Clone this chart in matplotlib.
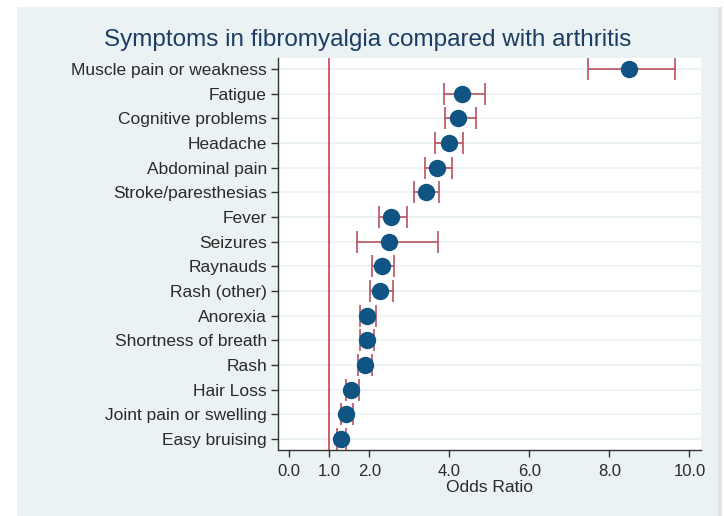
import matplotlib
matplotlib.use("Agg")
import matplotlib.pyplot as plt

plt.rcParams['font.family'] = ['Liberation Sans', 'DejaVu Sans']

# symptoms, top to bottom
symptoms = ["Muscle pain or weakness", "Fatigue", "Cognitive problems", "Headache",
            "Abdominal pain", "Stroke/paresthesias", "Fever", "Seizures",
            "Raynauds", "Rash (other)", "Anorexia", "Shortness of breath",
            "Rash", "Hair Loss", "Joint pain or swelling", "Easy bruising"]
odds_ratio = [8.48, 4.32, 4.23, 3.99, 3.70, 3.42, 2.55, 2.50,
              2.33, 2.27, 1.94, 1.94, 1.89, 1.55, 1.41, 1.30]
ci_low = [7.47, 3.86, 3.89, 3.65, 3.40, 3.13, 2.25, 1.70,
          2.07, 2.01, 1.76, 1.76, 1.72, 1.41, 1.29, 1.20]
ci_high = [9.65, 4.90, 4.68, 4.35, 4.06, 3.75, 2.95, 3.72,
           2.62, 2.60, 2.16, 2.12, 2.07, 1.74, 1.60, 1.43]
x_ticks = [0, 1, 2, 4, 6, 8, 10]

BG = "#EAF2F3"
NAVY = "#0F5482"
BAR_RED = "#B8525E"
LINE_RED = "#C23048"
TXT = "#2A2A2A"

fig = plt.figure(figsize=(7.24, 5.16), dpi=100, facecolor="white")
# faint shadow on the right, then the light panel behind the chart
shadow = fig.add_axes([718 / 724, 0, 4 / 724, (516 - 7) / 516], zorder=-2)
shadow.set_facecolor("#E2E4E6")
bg_ax = fig.add_axes([17 / 724, 0, (718 - 17) / 724, (516 - 7) / 516], zorder=-1)
bg_ax.set_facecolor(BG)
for a in (shadow, bg_ax):
    a.set_xticks([])
    a.set_yticks([])
    for s in a.spines.values():
        s.set_visible(False)

ax = fig.add_axes([278 / 724, 66 / 516, (701 - 278) / 724, (450 - 58) / 516])
ax.set_facecolor("white")

ypos = list(range(len(symptoms)))
for y in ypos:
    ax.axhline(y, color=BG, linewidth=1.2, zorder=0)

ax.axvline(1.0, color=LINE_RED, linewidth=1.1, zorder=1)

xerr = [[o - l for o, l in zip(odds_ratio, ci_low)],
        [h - o for o, h in zip(odds_ratio, ci_high)]]
ax.errorbar(odds_ratio, ypos, xerr=xerr, fmt="none", ecolor=BAR_RED,
            elinewidth=1.2, capsize=8, capthick=1.2, zorder=2)
ax.plot(odds_ratio, ypos, "o", color=NAVY, markersize=11.5, zorder=3)

ax.set_xlim(-0.28, 10.29)
ax.set_ylim(len(symptoms) - 1 + 0.45, -0.45)
ax.set_yticks(ypos)
ax.set_yticklabels(symptoms, fontsize=12.5, color=TXT)
ax.set_xticks(x_ticks)
ax.set_xticklabels([f"{t:.1f}" for t in x_ticks], fontsize=12, color=TXT)
ax.set_xlabel("Odds Ratio", fontsize=12.5, color=TXT, labelpad=1)

for side in ("top", "right"):
    ax.spines[side].set_visible(False)
for side in ("left", "bottom"):
    ax.spines[side].set_color("#333333")
    ax.spines[side].set_linewidth(1.0)
ax.tick_params(axis="both", length=5, width=1.0, color="#333333", pad=3)
ax.tick_params(axis="x", pad=5)

fig.text(0.5 * (103 + 632) / 724, 1 - 40 / 516,
         "Symptoms in fibromyalgia compared with arthritis",
         ha="center", va="center", fontsize=17.5, color="#1E3D64")

fig.savefig("out.png", dpi=100, facecolor=fig.get_facecolor())
